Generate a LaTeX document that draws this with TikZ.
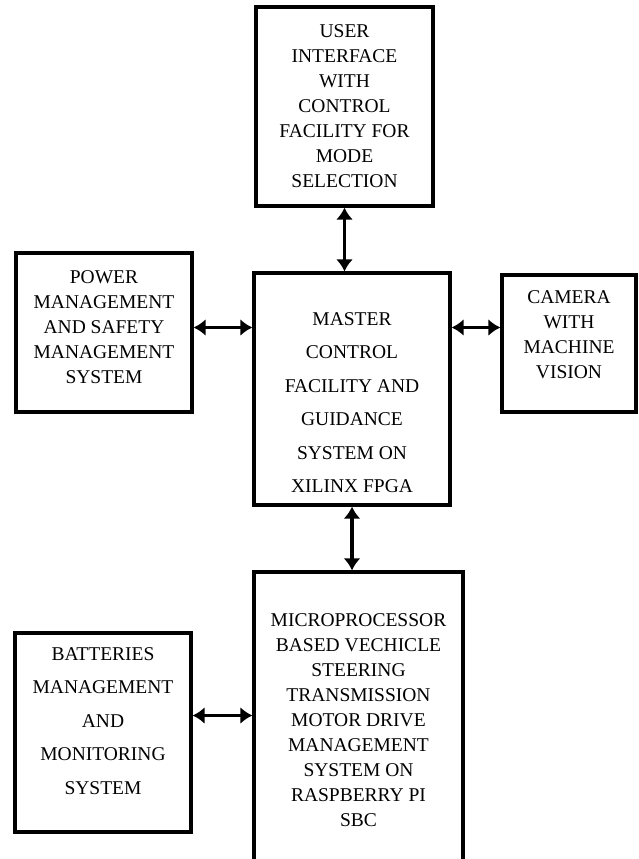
\documentclass[tikz,border=0pt]{standalone}
\usepackage{fontspec}
\setmainfont{Liberation Serif}
\usetikzlibrary{arrows.meta}

\tikzset{
  blk/.style={draw, line width=3.2pt, inner sep=0pt},
  lbl/.style={align=center, font=\fontsize{19.5}{25}\selectfont},
  lblwide/.style={align=center, font=\fontsize{19.5}{33.5}\selectfont},
  link/.style={line width=3.3pt, {Latex[length=12pt,width=17pt]}-{Latex[length=12pt,width=17pt]}}
}

\begin{document}
\begin{tikzpicture}[x=1pt,y=-1pt]
\clip (0,0) rectangle (638,859);
\fill[white] (0,0) rectangle (638,859);
% blocks
\node[blk, minimum width=177pt, minimum height=199pt,
  label={[lbl]center:USER\\INTERFACE\\WITH\\CONTROL\\FACILITY FOR\\MODE\\SELECTION}] (ui) at (344.5,106.5) {};
\node[blk, minimum width=176pt, minimum height=159pt,
  label={[lbl,yshift=5pt]center:POWER\\MANAGEMENT\\AND SAFETY\\MANAGEMENT\\SYSTEM}] (power) at (104,332.5) {};
\node[blk, minimum width=196pt, minimum height=232pt,
  label={[lblwide,yshift=-13.5pt]center:MASTER\\CONTROL\\FACILITY AND\\GUIDANCE\\SYSTEM ON\\XILINX FPGA}] (master) at (352,389) {};
\node[blk, minimum width=134pt, minimum height=137pt,
  label={[lbl,yshift=8.5pt]center:CAMERA\\WITH\\MACHINE\\VISION}] (camera) at (569,343.5) {};
\node[blk, minimum width=209pt, minimum height=296pt,
  label={[lbl]center:MICROPROCESSOR\\BASED VECHICLE\\STEERING\\TRANSMISSION\\MOTOR DRIVE\\MANAGEMENT\\SYSTEM ON\\RASPBERRY PI\\SBC}] (mpu) at (358.5,720) {};
\node[blk, minimum width=176pt, minimum height=199pt,
  label={[lblwide,yshift=11.5pt]center:BATTERIES\\MANAGEMENT\\AND\\MONITORING\\SYSTEM}] (bms) at (103,732.5) {};
% links
\draw[link] (ui.south) -- (ui.south |- master.north);
\draw[link] (master.south) -- (master.south |- mpu.north);
\draw[link] ([yshift=5pt]power.east) -- ([yshift=5pt]power.east -| master.west);
\draw[link] ([yshift=16pt]camera.west -| master.east) -- ([yshift=16pt]camera.west);
\draw[link] ([yshift=17pt]bms.east) -- ([yshift=17pt]bms.east -| mpu.west);
\end{tikzpicture}
\end{document}
